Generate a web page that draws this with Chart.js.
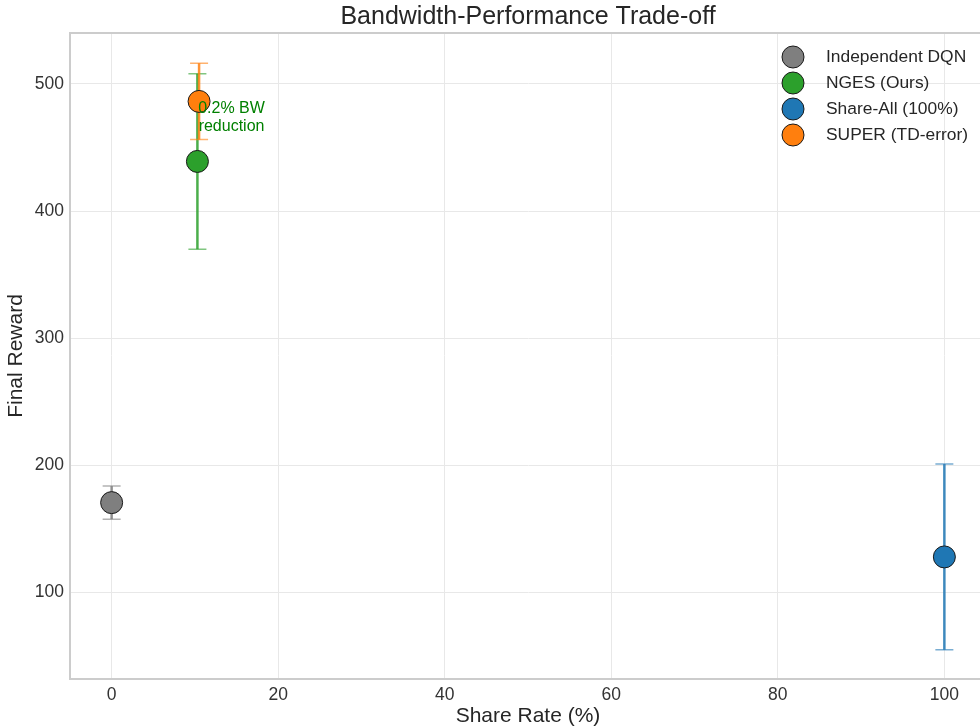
<!DOCTYPE html>
<html>
<head>
<meta charset="utf-8">
<script src="https://cdn.jsdelivr.net/npm/chart.js@4.4.0/dist/chart.umd.min.js"></script>
<style>
  html, body { margin: 0; padding: 0; background: #fff; }
  #wrap { width: 980px; height: 727px; overflow: hidden; position: relative; }
  canvas { display: block; }
</style>
</head>
<body>
<div id="wrap"><canvas id="c" width="1000" height="727"></canvas></div>
<script>
// ---- data ----
const categories  = ['Independent DQN', 'NGES (Ours)', 'Share-All (100%)', 'SUPER (TD-error)'];
const shareRate   = [0, 10.3, 100, 10.5];
const finalReward = [170.7, 439, 128, 486.2];
const rewardErr   = [13, 69, 73, 30];
const seriesColors = ['#7f7f7f', '#2ca02c', '#1f77b4', '#ff7f0e'];
const xTicks = [0, 20, 40, 60, 80, 100];
const yTicks = [100, 200, 300, 400, 500];
const annotationText = ['0.2% BW', 'reduction'];
const annotationPos = { x: 14.4, y: 473.5 };

const FONT = "'Liberation Sans', Arial, sans-serif";

const datasets = categories.map((name, i) => ({
  label: name,
  data: [{ x: shareRate[i], y: finalReward[i] }],
  err: [rewardErr[i]],
  backgroundColor: seriesColors[i],
  borderColor: '#1a1a1a',
  borderWidth: 1,
  pointRadius: 11,
  pointHoverRadius: 11
}));

function hexA(hex, a) {
  const n = parseInt(hex.slice(1), 16);
  return `rgba(${(n >> 16) & 255},${(n >> 8) & 255},${n & 255},${a})`;
}

const errorBars = {
  id: 'errorBars',
  beforeDatasetsDraw(chart) {
    const ctx = chart.ctx, xs = chart.scales.x, ys = chart.scales.y;
    ctx.save();
    chart.data.datasets.forEach((ds, di) => {
      ds.data.forEach((p, pi) => {
        const e = ds.err[pi];
        const px = xs.getPixelForValue(p.x);
        const top = ys.getPixelForValue(p.y + e);
        const bot = ys.getPixelForValue(p.y - e);
        ctx.strokeStyle = hexA(seriesColors[di], 0.85);
        ctx.lineWidth = 2.5;
        ctx.beginPath();
        ctx.moveTo(px, top); ctx.lineTo(px, bot);
        ctx.stroke();
        ctx.lineWidth = 1.5;
        ctx.strokeStyle = hexA(seriesColors[di], 0.6);
        ctx.beginPath();
        ctx.moveTo(px - 9, top); ctx.lineTo(px + 9, top);
        ctx.moveTo(px - 9, bot); ctx.lineTo(px + 9, bot);
        ctx.stroke();
      });
    });
    ctx.restore();
  }
};

const extras = {
  id: 'extras',
  beforeDatasetsDraw(chart) {
    const ctx = chart.ctx, a = chart.chartArea;
    ctx.save();
    ctx.strokeStyle = '#cccccc';
    ctx.lineWidth = 2;
    ctx.beginPath();
    ctx.moveTo(a.left - 1, a.top); ctx.lineTo(a.right, a.top);
    ctx.moveTo(a.right, a.top); ctx.lineTo(a.right, a.bottom);
    ctx.stroke();
    ctx.restore();
  },
  afterDatasetsDraw(chart) {
    const ctx = chart.ctx, a = chart.chartArea;
    const xs = chart.scales.x, ys = chart.scales.y;
    ctx.save();
    // annotation
    ctx.fillStyle = '#008000';
    ctx.font = `16px ${FONT}`;
    ctx.textAlign = 'center';
    ctx.textBaseline = 'middle';
    const ax = xs.getPixelForValue(annotationPos.x);
    const ay = ys.getPixelForValue(annotationPos.y);
    ctx.fillText(annotationText[0], ax, ay - 9);
    ctx.fillText(annotationText[1], ax, ay + 9);
    // legend
    ctx.font = `17.4px ${FONT}`;
    ctx.textAlign = 'left';
    chart.data.datasets.forEach((ds, i) => {
      const cy = a.top + 24 + i * 26;
      const mx = a.right - 193;
      ctx.beginPath();
      ctx.arc(mx, cy, 11, 0, Math.PI * 2);
      ctx.fillStyle = seriesColors[i];
      ctx.fill();
      ctx.lineWidth = 1;
      ctx.strokeStyle = '#1a1a1a';
      ctx.stroke();
      ctx.fillStyle = '#262626';
      ctx.fillText(ds.label, a.right - 160, cy);
    });
    ctx.restore();
  }
};

function onlyTicks(list) {
  return (scale) => { scale.ticks = list.map(v => ({ value: v })); };
}

new Chart(document.getElementById('c'), {
  type: 'scatter',
  data: { datasets },
  plugins: [errorBars, extras],
  options: {
    responsive: false,
    animation: false,
    events: [],
    layout: { padding: { left: 0, right: 14, top: 0, bottom: 0 } },
    plugins: {
      legend: { display: false },
      tooltip: { enabled: false },
      title: {
        display: true,
        text: 'Bandwidth-Performance Trade-off',
        fullSize: false,
        color: '#262626',
        font: { family: FONT, size: 25, weight: 'normal', lineHeight: 1.2 },
        padding: { top: 2, bottom: 1 }
      }
    },
    scales: {
      x: {
        type: 'linear',
        min: -5, max: 105,
        afterBuildTicks: onlyTicks(xTicks),
        afterFit: (s) => { s.height = 48; },
        grid: { color: '#e8e8e8', lineWidth: 1, drawTicks: false },
        border: { display: true, color: '#cccccc', width: 2 },
        ticks: { color: '#333333', padding: 6, font: { family: FONT, size: 17.5 } },
        title: {
          display: true, text: 'Share Rate (%)', color: '#262626',
          font: { family: FONT, size: 21, lineHeight: 1.0 }, padding: 0
        }
      },
      y: {
        type: 'linear',
        min: 32, max: 540,
        afterBuildTicks: onlyTicks(yTicks),
        afterFit: (s) => { s.width = 70; },
        grid: { color: '#e8e8e8', lineWidth: 1, drawTicks: false },
        border: { display: true, color: '#cccccc', width: 2 },
        ticks: { color: '#333333', padding: 6, font: { family: FONT, size: 17.5 } },
        title: {
          display: true, text: 'Final Reward', color: '#262626',
          font: { family: FONT, size: 21, lineHeight: 1.2 }, padding: { top: 4, bottom: 0 }
        }
      }
    }
  }
});
</script>
</body>
</html>
